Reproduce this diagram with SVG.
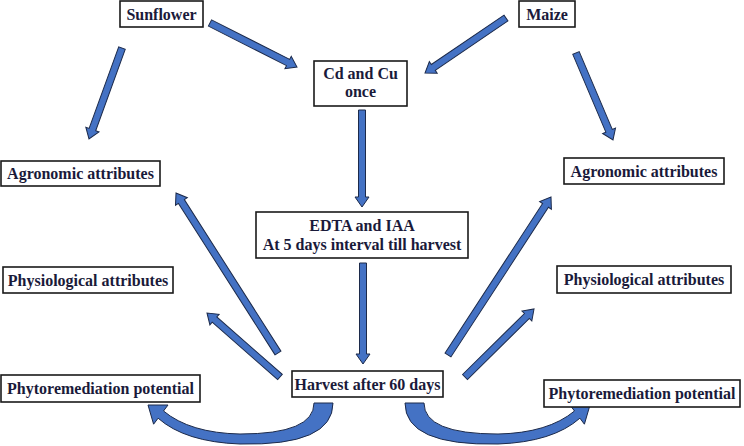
<svg xmlns="http://www.w3.org/2000/svg" width="744" height="446" viewBox="0 0 744 446">
<style>
.box{fill:#fff;stroke:#1a1a1a;stroke-width:1.6}
.t{font-weight:bold;font-size:16px;fill:#1a1a3a;text-anchor:middle}
.arr{fill:#4472C4;stroke:#1c2a4a;stroke-width:1;stroke-linejoin:miter}
</style>
<rect width="744" height="446" fill="#fff"/>
<g id="connectors">
<g transform="translate(122,48) rotate(109.93)"><polygon class="arr" points="0,-3.5 86.8,-3.5 86.8,-7 96.8,0 86.8,7 86.8,3.5 0,3.5"/></g>
<g transform="translate(576,53) rotate(66.96)"><polygon class="arr" points="0,-3.5 84.5,-3.5 84.5,-7 94.5,0 84.5,7 84.5,3.5 0,3.5"/></g>
<g transform="translate(210,23) rotate(26.83)"><polygon class="arr" points="0,-3.5 87.5,-3.5 87.5,-7 97.5,0 87.5,7 87.5,3.5 0,3.5"/></g>
<g transform="translate(506,18) rotate(145.82)"><polygon class="arr" points="0,-3.5 87.9,-3.5 87.9,-7 97.9,0 87.9,7 87.9,3.5 0,3.5"/></g>
<g transform="translate(362,110) rotate(90)"><polygon class="arr" points="0,-3.5 87,-3.5 87,-7 97,0 87,7 87,3.5 0,3.5"/></g>
<g transform="translate(363,263) rotate(90)"><polygon class="arr" points="0,-3.5 91,-3.5 91,-7 101,0 91,7 91,3.5 0,3.5"/></g>
<g transform="translate(278,353) rotate(-122.52)"><polygon class="arr" points="0,-3.5 179.7,-3.5 179.7,-7 189.7,0 179.7,7 179.7,3.5 0,3.5"/></g>
<g transform="translate(280,377) rotate(-138.76)"><polygon class="arr" points="0,-3.5 87.1,-3.5 87.1,-7 97.1,0 87.1,7 87.1,3.5 0,3.5"/></g>
<g transform="translate(448,355) rotate(-56.9)"><polygon class="arr" points="0,-3.5 178.6,-3.5 178.6,-7 188.6,0 178.6,7 178.6,3.5 0,3.5"/></g>
<g transform="translate(465,377) rotate(-44.58)"><polygon class="arr" points="0,-3.5 86.9,-3.5 86.9,-7 96.9,0 86.9,7 86.9,3.5 0,3.5"/></g>
<path class="arr" d="M314,403 L333,403 Q333,446 240,444 Q185,442 158.1,418.2 L153.6,424.2 L148,405 L168,405 L163.5,411 Q190,433 240,434 Q314,434 314,403 Z"/>
<path class="arr" d="M424,403 L405,403 Q405,446 498,444 Q553,442 579.9,418.2 L584.4,424.2 L590,405 L570,405 L574.5,411 Q548,433 498,434 Q424,434 424,403 Z"/>
</g>
<g font-family="'Liberation Serif', 'DejaVu Serif', serif">
<g id="sunflower"><rect class="box" x="120" y="1" width="83" height="26"/><text class="t" x="161.5" y="19.5">Sunflower</text></g>
<g id="maize"><rect class="box" x="519" y="1" width="56" height="26"/><text class="t" x="547" y="19.5">Maize</text></g>
<g id="cdcu"><rect class="box" x="314" y="61" width="93" height="45"/><text class="t" x="360.5" y="79">Cd and Cu</text><text class="t" x="360.5" y="97">once</text></g>
<g id="agro-left"><rect class="box" x="1" y="161" width="159" height="25"/><text class="t" x="80.5" y="179">Agronomic attributes</text></g>
<g id="physio-left"><rect class="box" x="3" y="267" width="170" height="26"/><text class="t" x="88" y="285.5">Physiological attributes</text></g>
<g id="edta"><rect class="box" x="256" y="212" width="212" height="46"/><text class="t" x="362" y="231">EDTA and IAA</text><text class="t" x="362" y="250">At 5 days interval till harvest</text></g>
<g id="phyto-left"><rect class="box" x="1" y="375" width="199" height="27"/><text class="t" x="100.5" y="394">Phytoremediation potential</text></g>
<g id="harvest"><rect class="box" x="292" y="371" width="151" height="26"/><text class="t" x="367.5" y="389.5">Harvest after 60 days</text></g>
<g id="agro-right"><rect class="box" x="564" y="158" width="160" height="26"/><text class="t" x="644" y="176.5">Agronomic attributes</text></g>
<g id="physio-right"><rect class="box" x="557" y="266" width="174" height="27"/><text class="t" x="644" y="285">Physiological attributes</text></g>
<g id="phyto-right"><rect class="box" x="544" y="380" width="196" height="27"/><text class="t" x="642" y="399">Phytoremediation potential</text></g>
</g>
</svg>
